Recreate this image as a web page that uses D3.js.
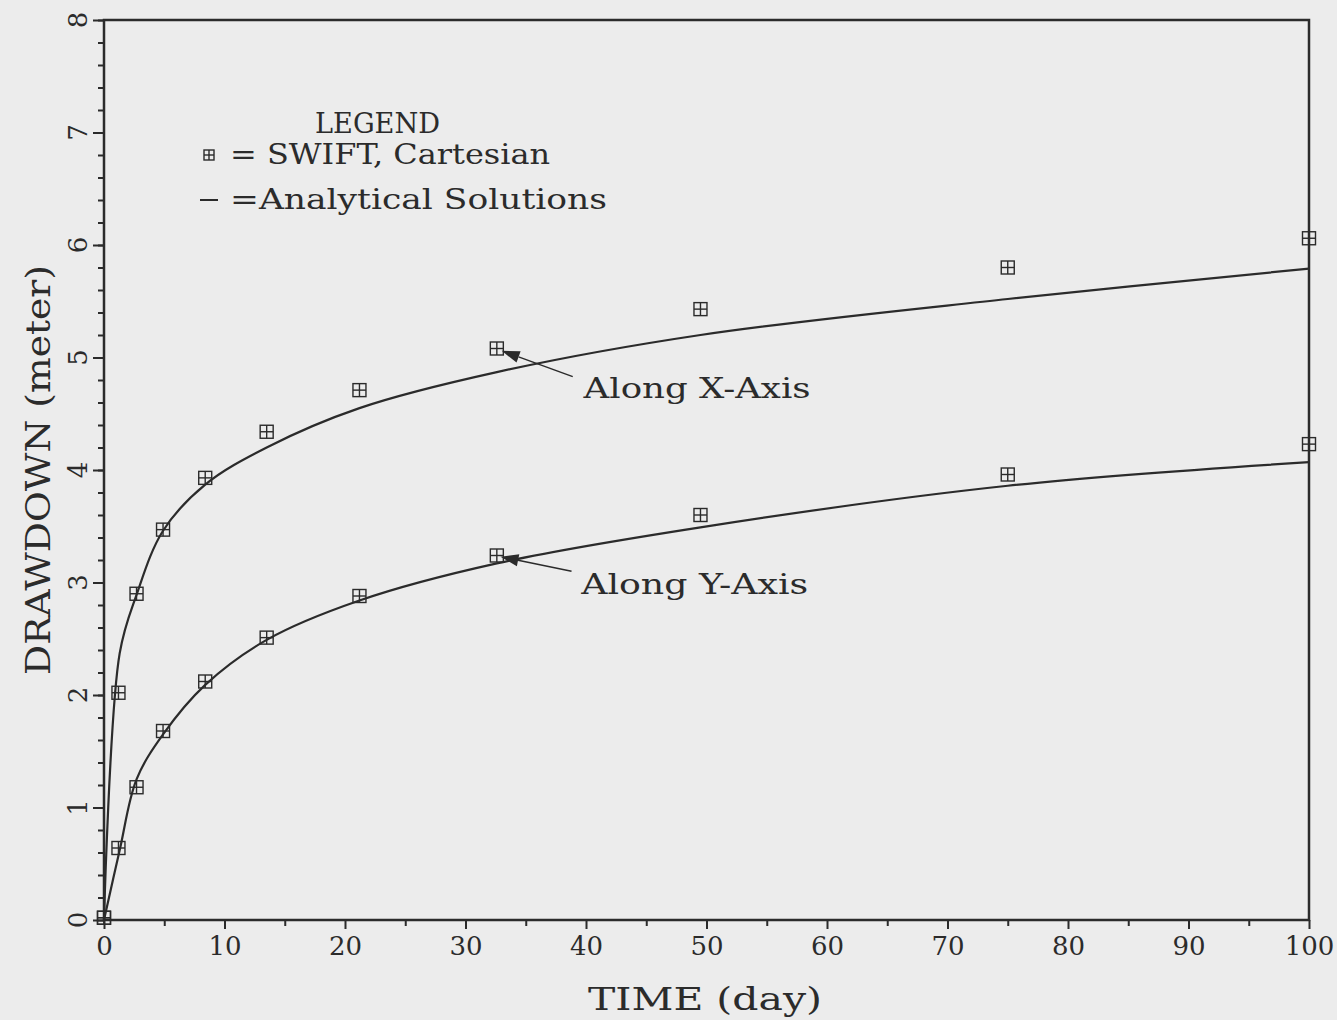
<!DOCTYPE html>
<html>
<head>
<meta charset="utf-8">
<script src="https://cdn.jsdelivr.net/npm/d3@7"></script>
<style>
  html, body { margin: 0; padding: 0; background: #ececec; }
  svg { display: block; }
</style>
</head>
<body>
<div id="chart"></div>
<script>
// SWIFT simulated drawdown (markers)
var swiftTime = [0, 1.2, 2.7, 4.9, 8.4, 13.5, 21.2, 32.6, 49.5, 75, 100];
var swiftAlongX = [0.02, 2.02, 2.90, 3.47, 3.93, 4.34, 4.71, 5.08, 5.43, 5.80, 6.06];
var swiftAlongY = [0.02, 0.64, 1.18, 1.68, 2.12, 2.51, 2.88, 3.24, 3.60, 3.96, 4.23];

// analytical solutions (lines)
var analTime = [0, 1.3, 2.7, 4.9, 8.4, 13.5, 21.2, 32.6, 49.5, 75, 100];
var analAlongX = [0, 2.37, 2.89, 3.46, 3.87, 4.20, 4.55, 4.87, 5.20, 5.52, 5.79];
var analAlongY = [0, 0.62, 1.25, 1.65, 2.09, 2.49, 2.84, 3.17, 3.49, 3.86, 4.07];

var xTicks = [0, 10, 20, 30, 40, 50, 60, 70, 80, 90, 100];
var yTicks = [0, 1, 2, 3, 4, 5, 6, 7, 8];

// annotation arrows, in data units
var annotations = [
  { label: 'Along X-Axis', tip: [33.0, 5.06], tail: [38.9, 4.83], text: [39.8, 4.64] },
  { label: 'Along Y-Axis', tip: [32.9, 3.23], tail: [38.8, 3.10], text: [39.6, 2.90] }
];

var width = 1337,
  height = 1020,
  marginLeft = 104,
  marginRight = 28,
  marginTop = 20,
  marginBottom = 100,
  ink = '#2b2b2b',
  serif = '"DejaVu Serif", "Liberation Serif", serif';

var svg = d3.select('#chart').append('svg')
  .attr('width', width)
  .attr('height', height);

svg.append('rect')
  .attr('width', width)
  .attr('height', height)
  .attr('fill', '#ececec');

var x = d3.scaleLinear()
  .domain([0, 100])
  .range([marginLeft, width - marginRight]);

var y = d3.scaleLinear()
  .domain([0, 8])
  .range([height - marginBottom, marginTop]);

// frame
svg.append('rect')
  .attr('x', x(0))
  .attr('y', y(8))
  .attr('width', x(100) - x(0))
  .attr('height', y(0) - y(8))
  .attr('fill', 'none')
  .attr('stroke', ink)
  .attr('stroke-width', 2.5);

// x axis: major ticks every 10, minor every 5
var xMinor = d3.axisBottom(x).tickValues(d3.range(5, 100, 10)).tickSize(6).tickFormat('');
var xMajor = d3.axisBottom(x).tickValues(xTicks).tickSize(9).tickPadding(8).tickFormat(d3.format('d'));

[xMinor, xMajor].forEach(function (ax) {
  var g = svg.append('g')
    .attr('transform', 'translate(0,' + y(0) + ')')
    .call(ax);
  g.select('.domain').remove();
  g.selectAll('line').attr('stroke', ink).attr('stroke-width', 2);
  g.selectAll('text')
    .attr('fill', ink)
    .attr('font-family', serif)
    .attr('font-size', 26);
});

// y axis: major each metre, minor every 0.2
var yMinor = d3.axisLeft(y).tickValues(d3.range(0, 8.01, 0.2)).tickSize(6).tickFormat('');
var yMajor = d3.axisLeft(y).tickValues(yTicks).tickSize(11).tickFormat('');

[yMinor, yMajor].forEach(function (ax) {
  var g = svg.append('g')
    .attr('transform', 'translate(' + x(0) + ',0)')
    .call(ax);
  g.select('.domain').remove();
  g.selectAll('line').attr('stroke', ink).attr('stroke-width', 2);
});

// rotated y tick labels
svg.selectAll('.ylabel')
  .data(yTicks)
  .enter()
  .append('text')
  .attr('class', 'ylabel')
  .attr('transform', function (d) { return 'translate(87,' + y(d) + ') rotate(-90)'; })
  .attr('text-anchor', 'middle')
  .attr('fill', ink)
  .attr('font-family', serif)
  .attr('font-size', 26)
  .text(function (d) { return d; });

// axis titles
svg.append('text')
  .attr('x', 705)
  .attr('y', 1010)
  .attr('text-anchor', 'middle')
  .attr('fill', ink)
  .attr('font-family', serif)
  .attr('font-size', 32)
  .attr('textLength', 234)
  .attr('lengthAdjust', 'spacingAndGlyphs')
  .text('TIME (day)');

svg.append('text')
  .attr('transform', 'translate(50,470) rotate(-90)')
  .attr('text-anchor', 'middle')
  .attr('fill', ink)
  .attr('font-family', serif)
  .attr('font-size', 33)
  .attr('textLength', 410)
  .attr('lengthAdjust', 'spacingAndGlyphs')
  .text('DRAWDOWN (meter)');

// analytical curves
var line = d3.line()
  .x(function (d) { return x(d[0]); })
  .y(function (d) { return y(d[1]); })
  .curve(d3.curveCatmullRom.alpha(0.5));

[analAlongX, analAlongY].forEach(function (vals) {
  svg.append('path')
    .datum(analTime.map(function (t, i) { return [t, vals[i]]; }))
    .attr('d', line)
    .attr('fill', 'none')
    .attr('stroke', ink)
    .attr('stroke-width', 2.2);
});

// SWIFT markers
function drawMarker(g, s) {
  g.append('rect')
    .attr('x', -s / 2).attr('y', -s / 2)
    .attr('width', s).attr('height', s)
    .attr('fill', 'none');
  g.append('line').attr('x1', -s / 2).attr('x2', s / 2);
  g.append('line').attr('y1', -s / 2).attr('y2', s / 2);
  g.attr('stroke', ink).attr('stroke-width', 1.4);
}

[swiftAlongX, swiftAlongY].forEach(function (vals) {
  svg.append('g')
    .selectAll('g')
    .data(swiftTime.map(function (t, i) { return [t, vals[i]]; }))
    .enter()
    .append('g')
    .attr('transform', function (d) { return 'translate(' + x(d[0]) + ',' + y(d[1]) + ')'; })
    .each(function () { drawMarker(d3.select(this), 13); });
});

// annotations with arrows
annotations.forEach(function (a) {
  var tx = x(a.tip[0]), ty = y(a.tip[1]);
  var sx = x(a.tail[0]), sy = y(a.tail[1]);
  var ang = Math.atan2(ty - sy, tx - sx);
  var len = 18, half = 6;
  var bx = tx - len * Math.cos(ang), by = ty - len * Math.sin(ang);
  svg.append('line')
    .attr('x1', sx).attr('y1', sy)
    .attr('x2', bx).attr('y2', by)
    .attr('stroke', ink)
    .attr('stroke-width', 1.5);
  svg.append('path')
    .attr('d', 'M' + tx + ',' + ty +
      'L' + (bx + half * Math.sin(ang)) + ',' + (by - half * Math.cos(ang)) +
      'L' + (bx - half * Math.sin(ang)) + ',' + (by + half * Math.cos(ang)) + 'Z')
    .attr('fill', ink);
  svg.append('text')
    .attr('x', x(a.text[0]))
    .attr('y', y(a.text[1]))
    .attr('fill', ink)
    .attr('font-family', serif)
    .attr('font-size', 28)
    .attr('textLength', 227)
    .attr('lengthAdjust', 'spacingAndGlyphs')
    .text(a.label);
});

// legend
var legend = svg.append('g');
legend.append('text')
  .attr('x', 315).attr('y', 133)
  .attr('fill', ink)
  .attr('font-family', serif)
  .attr('font-size', 28)
  .attr('textLength', 125)
  .attr('lengthAdjust', 'spacingAndGlyphs')
  .text('LEGEND');

var lm = legend.append('g').attr('transform', 'translate(209,155)');
drawMarker(lm, 10);

legend.append('text')
  .attr('x', 230).attr('y', 164)
  .attr('fill', ink)
  .attr('font-family', serif)
  .attr('font-size', 28)
  .attr('textLength', 320)
  .attr('lengthAdjust', 'spacingAndGlyphs')
  .text('= SWIFT, Cartesian');

legend.append('line')
  .attr('x1', 200).attr('x2', 218)
  .attr('y1', 200).attr('y2', 200)
  .attr('stroke', ink)
  .attr('stroke-width', 2);

legend.append('text')
  .attr('x', 230).attr('y', 209)
  .attr('fill', ink)
  .attr('font-family', serif)
  .attr('font-size', 28)
  .attr('textLength', 377)
  .attr('lengthAdjust', 'spacingAndGlyphs')
  .text('=Analytical Solutions');
</script>
</body>
</html>
